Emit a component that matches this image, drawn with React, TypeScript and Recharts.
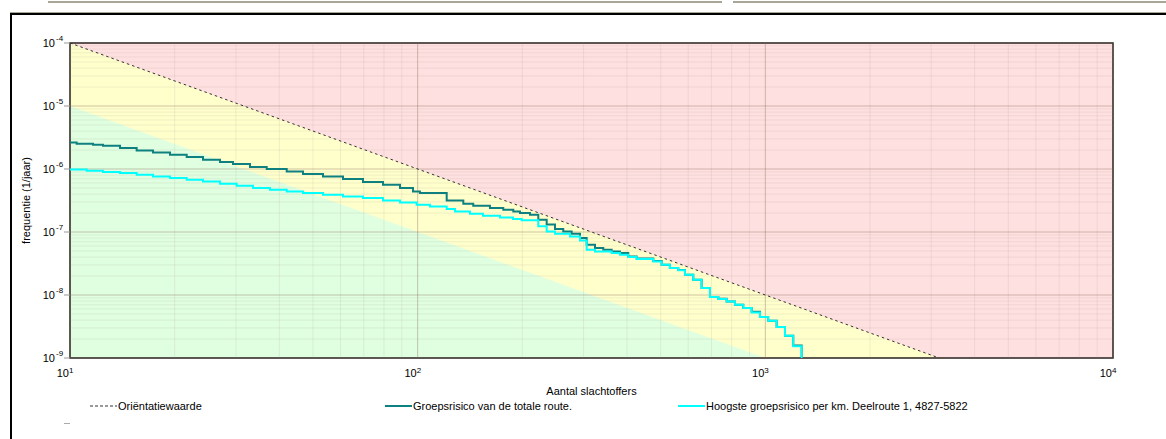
import React from 'react';
import {
    ComposedChart, Line, Area, XAxis, YAxis, ReferenceLine, ReferenceArea
} from 'recharts';

// aantal slachtoffers / frequentie
const totaleRoute = [
    { n: 10, f: 2.64e-6 }, { n: 10.45, f: 2.52e-6 }, { n: 11.65, f: 2.43e-6 },
    { n: 12.44, f: 2.34e-6 }, { n: 13.93, f: 2.15e-6 }, { n: 15.55, f: 1.97e-6 },
    { n: 17.33, f: 1.83e-6 }, { n: 19.39, f: 1.69e-6 }, { n: 21.66, f: 1.55e-6 },
    { n: 24.13, f: 1.4e-6 }, { n: 27.01, f: 1.29e-6 }, { n: 29.43, f: 1.2e-6 },
    { n: 32.94, f: 1.08e-6 }, { n: 36.8, f: 1.0e-6 }, { n: 42.01, f: 9.16e-7 },
    { n: 46.79, f: 8.33e-7 }, { n: 53.42, f: 7.63e-7 }, { n: 60.99, f: 6.94e-7 },
    { n: 69.62, f: 6.22e-7 }, { n: 79.48, f: 5.63e-7 }, { n: 88.96, f: 4.99e-7 },
    { n: 96.94, f: 4.41e-7 }, { n: 101.5, f: 4.16e-7 }, { n: 121.2, f: 3.17e-7 },
    { n: 135.3, f: 2.81e-7 }, { n: 144.5, f: 2.62e-7 }, { n: 161.4, f: 2.4e-7 },
    { n: 176.3, f: 2.26e-7 }, { n: 188.4, f: 2.12e-7 }, { n: 196.9, f: 2.0e-7 },
    { n: 210.4, f: 1.88e-7 }, { n: 222.3, f: 1.57e-7 }, { n: 235.0, f: 1.31e-7 },
    { n: 248.3, f: 1.12e-7 }, { n: 262.3, f: 1.02e-7 }, { n: 277.3, f: 9.4e-8 },
    { n: 293.0, f: 8.03e-8 }, { n: 306.3, f: 6.29e-8 }, { n: 323.6, f: 5.57e-8 },
    { n: 341.9, f: 5.24e-8 }, { n: 361.4, f: 4.92e-8 }, { n: 381.8, f: 4.64e-8 },
    { n: 403.4, f: 4.1e-8 }, { n: 426.5, f: 3.78e-8 }, { n: 476.1, f: 3.45e-8 },
    { n: 503.3, f: 3.03e-8 }, { n: 531.6, f: 2.68e-8 }, { n: 561.7, f: 2.5e-8 },
    { n: 587.2, f: 2.1e-8 }, { n: 620.4, f: 1.75e-8 }, { n: 655.8, f: 1.29e-8 },
    { n: 693.0, f: 9.3e-9 }, { n: 732.2, f: 8.7e-9 }, { n: 774.0, f: 7.91e-9 },
    { n: 817.7, f: 7.01e-9 }, { n: 864.0, f: 6.22e-9 }, { n: 913.3, f: 5.4e-9 },
    { n: 965.0, f: 4.47e-9 }, { n: 1019, f: 3.91e-9 }, { n: 1078, f: 3.1e-9 },
    { n: 1139, f: 2.26e-9 }, { n: 1203, f: 1.58e-9 }, { n: 1272, f: 1e-9 },
];

const hoogsteDeelroute = [
    { n: 10, f: 9.8e-7 }, { n: 11.17, f: 9.4e-7 }, { n: 12.44, f: 8.96e-7 },
    { n: 13.93, f: 8.64e-7 }, { n: 15.55, f: 8.12e-7 }, { n: 17.33, f: 7.63e-7 },
    { n: 19.39, f: 7.2e-7 }, { n: 21.66, f: 6.76e-7 }, { n: 24.13, f: 6.35e-7 },
    { n: 27.01, f: 5.84e-7 }, { n: 30.16, f: 5.43e-7 }, { n: 33.6, f: 4.99e-7 },
    { n: 37.6, f: 4.69e-7 }, { n: 42.01, f: 4.41e-7 }, { n: 46.79, f: 4.16e-7 },
    { n: 53.42, f: 3.91e-7 }, { n: 60.99, f: 3.67e-7 }, { n: 69.62, f: 3.46e-7 },
    { n: 79.48, f: 3.17e-7 }, { n: 88.96, f: 2.95e-7 }, { n: 99.34, f: 2.71e-7 },
    { n: 108.5, f: 2.55e-7 }, { n: 121.2, f: 2.32e-7 }, { n: 128.0, f: 2.12e-7 },
    { n: 141.4, f: 1.95e-7 }, { n: 154.1, f: 1.81e-7 }, { n: 172.5, f: 1.7e-7 },
    { n: 188.0, f: 1.61e-7 }, { n: 199.1, f: 1.53e-7 }, { n: 222.3, f: 1.23e-7 },
    { n: 235.0, f: 1.02e-7 }, { n: 248.3, f: 9.4e-8 }, { n: 274.2, f: 8.51e-8 },
    { n: 293.0, f: 7.36e-8 }, { n: 306.3, f: 5.24e-8 }, { n: 323.6, f: 4.92e-8 },
    { n: 361.4, f: 4.64e-8 }, { n: 381.8, f: 4.36e-8 }, { n: 403.4, f: 4.01e-8 },
    { n: 426.5, f: 3.73e-8 }, { n: 476.1, f: 3.41e-8 }, { n: 503.3, f: 3.03e-8 },
    { n: 531.6, f: 2.68e-8 }, { n: 561.7, f: 2.46e-8 }, { n: 587.2, f: 2.1e-8 },
    { n: 620.4, f: 1.75e-8 }, { n: 655.8, f: 1.29e-8 }, { n: 693.0, f: 9.3e-9 },
    { n: 732.2, f: 8.64e-9 }, { n: 774.0, f: 7.91e-9 }, { n: 817.7, f: 7.01e-9 },
    { n: 864.0, f: 6.22e-9 }, { n: 913.3, f: 5.29e-9 }, { n: 965.0, f: 4.47e-9 },
    { n: 1019, f: 3.91e-9 }, { n: 1078, f: 3.1e-9 }, { n: 1139, f: 2.26e-9 },
    { n: 1203, f: 1.53e-9 }, { n: 1272, f: 1e-9 },
];

// orientatiewaarde 1e-2 / N^2
const orientatie = [
    { n: 10, f: 1e-4 },
    { n: 3162.28, f: 1e-9 },
];

// zones behind the curves
const gebiedGeel = [
    { n: 10, range: [1e-9, 1e-4] },
    { n: 3162.28, range: [1e-9, 1e-9] },
];
const gebiedGroen = [
    { n: 10, range: [1e-9, 1e-5] },
    { n: 1000, range: [1e-9, 1e-9] },
];

const xTicks = [10, 100, 1000, 10000];
const yTicks = [1e-9, 1e-8, 1e-7, 1e-6, 1e-5, 1e-4];

const xGrid: number[] = [];
[10, 100, 1000].forEach(d => { for (let m = 1; m < 10; m++) xGrid.push(m * d); });
xGrid.push(10000);
const yGrid: number[] = [];
[1e-9, 1e-8, 1e-7, 1e-6, 1e-5].forEach(d => { for (let m = 1; m < 10; m++) yGrid.push(m * d); });
yGrid.push(1e-4);

const isMajor = (v: number) => Math.abs(Math.log10(v) - Math.round(Math.log10(v))) < 1e-6;

const font = '"Liberation Sans", Arial, sans-serif';

const YTick = ({ x, y, payload }: any) => {
    const e = Math.round(Math.log10(payload.value));
    return (
        <g fontFamily={font} fill="#000">
            <text x={x - 7} y={y + 4} textAnchor="end" fontSize={11}>10</text>
            <text x={x - 6} y={y - 2} fontSize={8}>{e}</text>
        </g>
    );
};

const XTick = ({ x, y, payload }: any) => {
    const e = Math.round(Math.log10(payload.value));
    return (
        <g fontFamily={font} fill="#000">
            <text x={x - 1} y={y + 19} textAnchor="end" fontSize={11}>10</text>
            <text x={x - 1} y={y + 15} fontSize={8}>{e}</text>
        </g>
    );
};

const legendItems = [
    { left: 90, label: 'Oriëntatiewaarde', color: '#333', dash: '3 2', width: 1 },
    { left: 385, label: 'Groepsrisico van de totale route.', color: '#0e8080', dash: undefined, width: 2 },
    { left: 678, label: 'Hoogste groepsrisico per km. Deelroute 1, 4827-5822', color: '#00ffff', dash: undefined, width: 2 },
];

const App = () => (
    <div style={{ position: 'absolute', left: 0, top: 0, width: 1166, height: 439, background: '#fff', overflow: 'hidden', fontFamily: font }}>
        <div style={{ position: 'absolute', left: 48, top: 1, width: 674, height: 2, background: '#aaa697' }} />
        <div style={{ position: 'absolute', left: 733, top: 1, width: 433, height: 2, background: '#aaa697' }} />
        <div style={{ position: 'absolute', left: 10, top: 12, width: 1156, height: 1, background: '#aaa697' }} />
        <div style={{ position: 'absolute', left: 10, top: 13, width: 1156, height: 2, background: '#000' }} />
        <div style={{ position: 'absolute', left: 10, top: 13, width: 2, height: 426, background: '#000' }} />

        <div style={{ position: 'absolute', left: 0, top: 0 }}>
            <ComposedChart width={1166} height={439} margin={{ top: 43, right: 53, left: 10, bottom: 41 }}>
                <XAxis
                    dataKey="n" type="number" scale="log" domain={[10, 10000]} ticks={xTicks}
                    allowDataOverflow axisLine={false} tickLine={false} tickSize={0} tickMargin={0}
                    height={40} tick={<XTick />} interval={0}
                    label={{
                        content: ({ viewBox }: any) => (
                            <text x={viewBox.x + viewBox.width / 2} y={viewBox.y + 37} textAnchor="middle"
                                fontSize={11} fontFamily={font} fill="#000">Aantal slachtoffers</text>
                        ),
                    }}
                />
                <YAxis
                    dataKey="f" type="number" scale="log" domain={[1e-9, 1e-4]} ticks={yTicks}
                    allowDataOverflow axisLine={false} tickLine={{ stroke: '#999' }} tickSize={6} tickMargin={2}
                    width={60} tick={<YTick />} interval={0}
                    label={{
                        content: ({ viewBox }: any) => {
                            const cx = viewBox.x + 20;
                            const cy = viewBox.y + viewBox.height / 2;
                            return (
                                <text x={cx} y={cy} transform={`rotate(-90 ${cx} ${cy})`} textAnchor="middle"
                                    fontSize={11} fontFamily={font} fill="#000">frequentie (1/jaar)</text>
                            );
                        },
                    }}
                />

                <ReferenceArea x1={10} x2={10000} y1={1e-9} y2={1e-4} fill="#ffe0e0" fillOpacity={1} stroke="none" />
                <Area data={gebiedGeel} dataKey="range" type="linear" stroke="none" fill="#ffffcc" fillOpacity={1}
                    dot={false} activeDot={false} isAnimationActive={false} />
                <Area data={gebiedGroen} dataKey="range" type="linear" stroke="none" fill="#e0ffe0" fillOpacity={1}
                    dot={false} activeDot={false} isAnimationActive={false} />

                {xGrid.map(v => (
                    <ReferenceLine key={'x' + v} x={v} stroke={isMajor(v) ? '#8a7060' : '#a09890'}
                        strokeOpacity={isMajor(v) ? 0.42 : 0.16} strokeWidth={1} />
                ))}
                {yGrid.map(v => (
                    <ReferenceLine key={'y' + v} y={v} stroke={isMajor(v) ? '#8a7060' : '#a09890'}
                        strokeOpacity={isMajor(v) ? 0.42 : 0.16} strokeWidth={1} />
                ))}

                <Line data={orientatie} dataKey="f" type="linear" stroke="#333" strokeWidth={1}
                    strokeDasharray="2.5 3" dot={false} activeDot={false} isAnimationActive={false} />
                <Line data={totaleRoute} dataKey="f" type="stepAfter" stroke="#0e8080" strokeWidth={2}
                    dot={false} activeDot={false} isAnimationActive={false} />
                <Line data={hoogsteDeelroute} dataKey="f" type="stepAfter" stroke="#00ffff" strokeWidth={2}
                    dot={false} activeDot={false} isAnimationActive={false} />

                <ReferenceArea x1={10} x2={10000} y1={1e-9} y2={1e-4} fill="none" stroke="#1a1a1a" strokeWidth={1.5} />
            </ComposedChart>
        </div>

        {legendItems.map(item => (
            <div key={item.label} style={{ position: 'absolute', left: item.left, top: 399, height: 14, display: 'flex', alignItems: 'center', fontSize: 11, color: '#000', whiteSpace: 'nowrap' }}>
                <svg width={28} height={14} style={{ display: 'block' }}>
                    <line x1={0} y1={7} x2={27} y2={7} stroke={item.color} strokeWidth={item.width} strokeDasharray={item.dash} />
                </svg>
                <span>{item.label}</span>
            </div>
        ))}
        <div style={{ position: 'absolute', left: 64, top: 423, width: 6, height: 1, background: '#aaa' }} />
    </div>
);

export default App;
